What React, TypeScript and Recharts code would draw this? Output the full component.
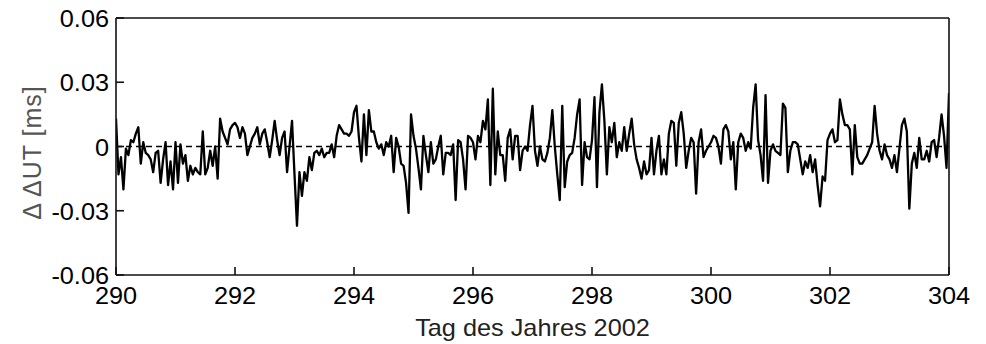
import { Label, Line, LineChart, ReferenceLine, XAxis, YAxis } from 'recharts';

// hourly ΔΔUT residuals [ms], one array per day of year 2002
const startDay = 290;
const day290 = [0.013, -0.013, -0.005, -0.02, -0.001, -0.004, 0.003, 0.002, 0.006, 0.009, -0.008, 0.002, -0.003, -0.004, -0.006, -0.012, -0.003, -0.002, -0.017, -0.006, 0.002, -0.018, -0.007, -0.02];
const day291 = [0.002, -0.017, 0.001, -0.008, -0.004, -0.016, -0.009, -0.013, -0.01, -0.012, -0.013, 0.007, -0.013, -0.01, -0.002, -0.009, 0.0, -0.015, 0.013, 0.007, 0.004, 0.001, 0.008, 0.01];
const day292 = [0.011, 0.009, 0.004, 0.009, 0.006, -0.004, 0.0, 0.004, 0.006, 0.009, 0.001, 0.006, 0.008, 0.002, -0.005, 0.003, 0.012, 0.003, -0.004, 0.004, 0.007, -0.012, 0.0, 0.012];
const day293 = [-0.013, -0.037, -0.012, -0.023, -0.012, -0.016, -0.005, -0.011, -0.003, -0.002, -0.004, -0.001, -0.005, -0.003, -0.003, 0.001, -0.005, 0.005, 0.01, 0.008, 0.006, 0.006, 0.005, 0.007];
const day294 = [0.016, 0.019, 0.004, -0.007, 0.015, -0.004, 0.017, 0.007, 0.007, 0.002, -0.001, 0.001, -0.004, 0.002, 0.0, 0.005, -0.012, 0.004, 0.0, -0.008, -0.009, -0.017, -0.031, 0.015];
const day295 = [0.005, -0.001, -0.01, -0.02, 0.005, -0.004, -0.012, 0.002, -0.008, -0.006, 0.0, 0.005, -0.013, -0.003, -0.003, -0.004, 0.001, -0.025, 0.003, 0.002, -0.006, -0.02, 0.005, 0.004];
const day296 = [0.002, -0.006, 0.005, 0.002, 0.012, 0.008, 0.022, -0.018, 0.027, -0.013, 0.007, -0.004, -0.004, -0.016, 0.004, 0.008, -0.006, 0.005, 0.005, -0.011, -0.002, 0.0, -0.002, 0.01];
const day297 = [0.019, -0.002, -0.009, 0.0, -0.006, -0.007, -0.003, 0.004, 0.017, 0.0, -0.013, -0.025, 0.019, -0.019, -0.007, -0.004, -0.003, 0.004, 0.015, 0.022, -0.018, 0.002, -0.005, -0.006];
const day298 = [0.003, 0.023, -0.019, 0.016, 0.029, 0.012, -0.013, 0.009, 0.002, 0.011, -0.005, 0.002, -0.002, 0.009, -0.002, 0.006, 0.013, 0.001, -0.006, -0.01, -0.015, -0.007, -0.013, -0.011];
const day299 = [0.004, -0.013, -0.002, 0.005, -0.013, -0.006, -0.013, 0.006, 0.012, 0.011, -0.009, 0.011, 0.016, 0.006, -0.01, -0.002, 0.004, 0.002, -0.022, 0.002, 0.008, -0.005, -0.002, 0.0];
const day300 = [0.002, 0.005, 0.004, 0.0, -0.008, 0.008, 0.01, 0.007, -0.006, 0.002, -0.02, 0.002, 0.006, 0.004, -0.002, 0.002, -0.001, 0.018, 0.029, 0.003, -0.004, -0.016, 0.024, -0.017];
const day301 = [-0.002, 0.001, -0.002, -0.003, -0.004, 0.02, 0.018, -0.012, -0.002, 0.002, 0.002, 0.001, -0.006, -0.013, -0.007, -0.01, -0.004, -0.012, -0.006, -0.018, -0.028, -0.014, -0.016, 0.003];
const day302 = [0.006, 0.008, 0.002, 0.003, 0.022, 0.015, 0.01, 0.01, 0.008, -0.013, 0.01, -0.005, -0.008, -0.008, -0.006, -0.004, -0.001, 0.002, 0.019, 0.006, -0.002, -0.006, 0.001, -0.004];
const day303 = [-0.006, -0.01, -0.004, -0.012, -0.001, 0.01, 0.013, 0.007, -0.029, -0.008, -0.003, -0.01, 0.004, -0.006, -0.006, -0.002, -0.007, 0.002, 0.003, -0.005, 0.004, 0.015, 0.005, -0.01];
const endValue = 0.025; // 304.0

const days = [day290, day291, day292, day293, day294, day295, day296, day297, day298, day299, day300, day301, day302, day303];

const xTicks = [290, 292, 294, 296, 298, 300, 302, 304];
const yTicks = [-0.06, -0.03, 0, 0.03, 0.06];

const data = [
  ...days.flatMap((vals, d) => vals.map((v, h) => ({ day: startDay + d + h / 24, dut: v }))),
  { day: startDay + days.length, dut: endValue },
];

const font = '"Liberation Sans", Arial, sans-serif';
const fontSize = 23;
const stretch = 1.1; // labels are set a little wide
const fmtY = (v: number) => (v === 0 ? '0' : v.toFixed(2));

const XTick = ({ x, y, payload }: any) => (
  <text
    transform={`translate(${x} ${y}) scale(${stretch} 1)`}
    textAnchor="middle"
    fill="#000"
    fontSize={fontSize}
    fontFamily={font}
  >
    {payload.value}
  </text>
);

const YTick = ({ x, y, payload }: any) => (
  <text
    transform={`translate(${x} ${y + 9}) scale(${stretch} 1)`}
    textAnchor="end"
    fill="#000"
    fontSize={fontSize}
    fontFamily={font}
  >
    {fmtY(payload.value)}
  </text>
);

const XTitle = ({ viewBox }: any) => {
  const cx = viewBox.x + viewBox.width / 2;
  const by = viewBox.y + 61;
  return (
    <text
      transform={`translate(${cx} ${by}) scale(${stretch} 1)`}
      textAnchor="middle"
      fill="#222"
      fontSize={fontSize}
      fontFamily={font}
    >
      Tag des Jahres 2002
    </text>
  );
};

const YTitle = ({ viewBox }: any) => {
  const cx = viewBox.x + 16;
  const cy = viewBox.y + viewBox.height / 2 + 6;
  return (
    <text
      x={cx}
      y={cy}
      transform={`rotate(-90 ${cx} ${cy})`}
      textAnchor="middle"
      dominantBaseline="central"
      fill="#555"
      fontSize={25}
      letterSpacing={1}
      fontFamily={font}
    >
      Δ ΔUT [ms]
    </text>
  );
};

export default function App() {
  return (
    <div style={{ position: 'absolute', left: 0, top: 0, background: '#fff' }}>
      <LineChart width={986} height={344} data={data} margin={{ top: 8, right: 27, bottom: 9, left: 16 }}>
        <XAxis
          xAxisId="b"
          dataKey="day"
          type="number"
          domain={[290, 304]}
          ticks={xTicks}
          height={60}
          tickSize={-8}
          tickMargin={37}
          stroke="#111"
          strokeWidth={1.6}
          tick={<XTick />}
          allowDataOverflow
        >
          <Label content={<XTitle />} />
        </XAxis>
        <XAxis
          xAxisId="t"
          orientation="top"
          dataKey="day"
          type="number"
          domain={[290, 304]}
          ticks={xTicks}
          height={10}
          tickSize={-8}
          tick={false}
          stroke="#111"
          strokeWidth={1.6}
          allowDataOverflow
        />
        <YAxis
          yAxisId="l"
          type="number"
          domain={[-0.06, 0.06]}
          ticks={yTicks}
          width={100}
          tickSize={-8}
          tickMargin={15}
          stroke="#111"
          strokeWidth={1.6}
          tick={<YTick />}
          allowDataOverflow
        >
          <Label content={<YTitle />} />
        </YAxis>
        <YAxis
          yAxisId="r"
          orientation="right"
          type="number"
          domain={[-0.06, 0.06]}
          ticks={yTicks}
          width={10}
          tickSize={-8}
          tick={false}
          stroke="#111"
          strokeWidth={1.6}
          allowDataOverflow
        />
        <ReferenceLine xAxisId="b" yAxisId="l" y={0} stroke="#000" strokeWidth={1.5} strokeDasharray="6 4" />
        <Line
          xAxisId="b"
          yAxisId="l"
          type="linear"
          dataKey="dut"
          stroke="#000"
          strokeWidth={2.3}
          strokeLinejoin="round"
          dot={false}
          isAnimationActive={false}
        />
      </LineChart>
    </div>
  );
}
